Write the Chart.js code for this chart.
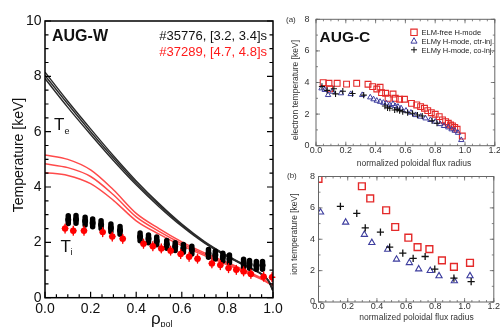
<!DOCTYPE html>
<html>
<head>
<meta charset="utf-8">
<script src="https://cdn.jsdelivr.net/npm/chart.js@4.4.1/dist/chart.umd.min.js"></script>
<style>
  html, body { margin: 0; padding: 0; background: #fff; }
  #wrap { position: relative; width: 500px; height: 327px; overflow: hidden; }
  #wrap canvas { position: absolute; left: 0; top: 0; }
</style>
</head>
<body>
<div id="wrap">
  <canvas id="augw" width="500" height="327"></canvas>
  <canvas id="augcA" width="500" height="327"></canvas>
  <canvas id="augcB" width="500" height="327"></canvas>
</div>
<script>
// ---- AUG-W: model profiles (three time slices each) ----
const rhoTe = [0, 0.1, 0.2, 0.3, 0.4, 0.5, 0.6, 0.7, 0.8, 0.9, 0.95, 0.98, 1.0];
const teHigh = [8.15, 7.1, 6.1, 5.13, 4.22, 3.4, 2.66, 2.03, 1.52, 1.08, 0.86, 0.63, 0.27];
const teMid  = [8.03, 7.0, 6.0, 5.05, 4.15, 3.35, 2.62, 2.0, 1.5, 1.07, 0.85, 0.62, 0.25];
const teLow  = [7.92, 6.88, 5.9, 4.96, 4.08, 3.29, 2.58, 1.97, 1.48, 1.05, 0.84, 0.6, 0.23];

const rhoTiFit = [0, 0.1, 0.2, 0.3, 0.4, 0.5, 0.6, 0.7, 0.8, 0.9, 0.95, 1.0];
const tiFitHigh = [5.16, 5.0, 4.62, 3.9, 3.05, 2.5, 2.02, 1.62, 1.27, 0.9, 0.7, 0.45];
const tiFitMid  = [4.84, 4.7, 4.38, 3.72, 2.92, 2.4, 1.95, 1.57, 1.23, 0.87, 0.68, 0.44];
const tiFitLow  = [4.52, 4.42, 4.12, 3.52, 2.78, 2.3, 1.88, 1.52, 1.19, 0.84, 0.66, 0.43];

// ---- AUG-W: measured Ti ----
const rhoTi35776 = [0.102, 0.136, 0.176, 0.209, 0.246, 0.289, 0.329,
  0.417, 0.454, 0.49, 0.534, 0.571, 0.607, 0.644,
  0.717, 0.747, 0.78, 0.809, 0.871, 0.897, 0.927, 0.954];
const ti35776 = [2.82, 2.83, 2.77, 2.7, 2.64, 2.52, 2.43,
  2.2, 2.13, 2.05, 1.93, 1.85, 1.78, 1.72,
  1.6, 1.54, 1.47, 1.4, 1.25, 1.2, 1.17, 1.17];
const rhoTi37289 = [0.088, 0.124, 0.171, 0.253, 0.295, 0.341,
  0.432, 0.473, 0.51, 0.551, 0.595, 0.632, 0.669,
  0.732, 0.769, 0.805, 0.839, 0.871, 0.903, 0.959, 0.996];
const ti37289 = [2.5, 2.42, 2.42, 2.37, 2.21, 2.13,
  1.95, 1.86, 1.78, 1.7, 1.58, 1.48, 1.41,
  1.24, 1.18, 1.07, 1.01, 0.95, 0.86, 0.76, 0.74];

// ---- AUG-C (a): electron temperature ----
const rhoTeFree = [0.048, 0.087, 0.092, 0.142, 0.205, 0.273, 0.349, 0.38, 0.408, 0.43, 0.44, 0.467,
  0.484, 0.517, 0.532, 0.561, 0.594, 0.641, 0.676, 0.702, 0.728, 0.75, 0.774, 0.8, 0.827,
  0.849, 0.87, 0.888, 0.903, 0.916, 0.931, 0.947, 0.982];
const teFree = [3.99, 3.95, 3.6, 3.95, 3.9, 3.95, 3.89, 3.74, 3.59, 3.7, 3.36, 3.32,
  3.0, 3.27, 3.0, 2.94, 2.94, 2.68, 2.58, 2.47, 2.37, 2.22, 2.09, 1.99, 1.84,
  1.63, 1.52, 1.42, 1.31, 1.25, 1.16, 1.04, 0.61];
const rhoTeCtr = [0.037, 0.059, 0.081, 0.109, 0.168, 0.233, 0.31, 0.364, 0.386, 0.408, 0.43, 0.452,
  0.473, 0.495, 0.517, 0.532, 0.55, 0.571, 0.604, 0.637, 0.669, 0.702, 0.735, 0.768,
  0.8, 0.833, 0.859, 0.888, 0.91, 0.931, 0.953, 0.975];
const teCtr = [3.63, 3.53, 3.21, 3.42, 3.32, 3.27, 3.21, 3.06, 2.94, 2.85, 2.78, 2.72,
  2.68, 2.58, 2.64, 2.51, 2.47, 2.37, 2.22, 2.09, 1.94, 1.84, 1.73, 1.63,
  1.52, 1.37, 1.25, 1.16, 1.04, 0.95, 0.82, 0.36];
const rhoTeCo = [0.04, 0.075, 0.12, 0.131, 0.18, 0.245, 0.32, 0.463, 0.48, 0.495, 0.528, 0.545,
  0.561, 0.582, 0.615, 0.648, 0.681, 0.713, 0.779, 0.812];
const teCo = [3.75, 3.5, 3.6, 3.28, 3.45, 3.3, 3.2, 2.51, 2.4, 2.37, 2.26, 2.3,
  2.22, 2.15, 2.09, 2.05, 1.94, 1.88, 1.58, 1.42];

// ---- AUG-C (b): ion temperature ----
const rhoTiFree = [0, 0.297, 0.354, 0.463, 0.525, 0.615, 0.678, 0.759, 0.845, 0.927, 1.037];
const tiFree = [7.85, 7.38, 6.6, 5.85, 4.78, 4.1, 3.5, 3.37, 2.65, 2.24, 2.5];
const rhoTiCtr = [0.014, 0.186, 0.314, 0.365, 0.474, 0.534, 0.622, 0.686, 0.765, 0.825, 0.93, 1.037];
const tiCtr = [5.72, 5.08, 4.3, 3.78, 3.35, 2.72, 2.5, 2.1, 2.0, 1.66, 1.34, 1.66];
const rhoTiCo = [0.15, 0.262, 0.32, 0.424, 0.487, 0.577, 0.648, 0.73, 0.796, 0.927, 1.045];
const tiCo = [6.1, 5.65, 4.72, 4.45, 3.5, 3.12, 2.78, 2.9, 2.1, 1.52, 1.3];

// ---- tick labels ----
const wTicksX = [0, 0.2, 0.4, 0.6, 0.8, 1.0];
const wTicksY = [0, 2, 4, 6, 8, 10];
const cTicksX = [0, 0.2, 0.4, 0.6, 0.8, 1.0, 1.2];
const cTicksY = [0, 2, 4, 6, 8];

const FONT = '"Liberation Sans", Arial, Helvetica, sans-serif';
const pts = (xs, ys) => xs.map((x, i) => ({ x: x, y: ys[i] }));

// draws box, inward ticks, tick labels and free text
const framePlugin = {
  id: 'frame',
  afterDraw(chart, args, o) {
    const { ctx, chartArea: a } = chart;
    const xs = chart.scales.x, ys = chart.scales.y;
    ctx.save();
    ctx.strokeStyle = o.color;
    ctx.lineWidth = o.lineWidth;
    ctx.strokeRect(a.left, a.top, a.right - a.left, a.bottom - a.top);

    ctx.lineWidth = o.tickWidth;
    ctx.beginPath();
    const tick = (axis, v, len) => {
      if (axis === 'x') {
        const px = xs.getPixelForValue(v);
        ctx.moveTo(px, a.bottom); ctx.lineTo(px, a.bottom - len);
        if (o.topTicks) { ctx.moveTo(px, a.top); ctx.lineTo(px, a.top + len); }
      } else {
        const py = ys.getPixelForValue(v);
        ctx.moveTo(a.left, py); ctx.lineTo(a.left + len, py);
        if (o.rightTicks) { ctx.moveTo(a.right, py); ctx.lineTo(a.right - len, py); }
      }
    };
    for (let v = xs.min; v <= xs.max + 1e-9; v += o.xMinor) tick('x', v, o.minorLen);
    for (let v = ys.min; v <= ys.max + 1e-9; v += o.yMinor) tick('y', v, o.minorLen);
    o.xTicks.forEach(v => tick('x', v, o.majorLen));
    o.yTicks.forEach(v => tick('y', v, o.majorLen));
    ctx.stroke();

    ctx.fillStyle = o.labelColor;
    ctx.font = o.tickFont;
    ctx.textAlign = 'center';
    ctx.textBaseline = 'middle';
    o.xTicks.forEach(v => ctx.fillText(v.toFixed(1), xs.getPixelForValue(v), o.xLabelY));
    ctx.textAlign = 'right';
    o.yTicks.forEach(v => ctx.fillText(String(v), o.yLabelX, ys.getPixelForValue(v)));

    ctx.textBaseline = 'alphabetic';
    (o.texts || []).forEach(t => {
      ctx.save();
      ctx.font = t.font;
      ctx.fillStyle = t.color || '#111';
      ctx.textAlign = t.align || 'left';
      ctx.translate(t.x, t.y);
      if (t.rotate) ctx.rotate(t.rotate);
      ctx.fillText(t.text, 0, 0);
      ctx.restore();
    });

    (o.legend || []).forEach(l => {
      drawMarker(ctx, l.style, l.x, l.y, l.r, l.color, l.lw);
      ctx.font = l.font;
      ctx.fillStyle = '#222';
      ctx.textAlign = 'left';
      ctx.fillText(l.text, l.x + 7.5, l.y + 2.7);
    });
    ctx.restore();
  }
};

function drawMarker(ctx, style, x, y, r, color, lw) {
  ctx.save();
  ctx.strokeStyle = color;
  ctx.lineWidth = lw;
  ctx.beginPath();
  if (style === 'rect') {
    ctx.rect(x - r, y - r, 2 * r, 2 * r);
  } else if (style === 'triangle') {
    ctx.moveTo(x, y - r);
    ctx.lineTo(x + r * 0.95, y + r * 0.7);
    ctx.lineTo(x - r * 0.95, y + r * 0.7);
    ctx.closePath();
  } else {
    ctx.moveTo(x - r, y); ctx.lineTo(x + r, y);
    ctx.moveTo(x, y - r); ctx.lineTo(x, y + r);
  }
  ctx.stroke();
  ctx.restore();
}

// vertical error bars drawn just before each point dataset
const errPlugin = {
  id: 'errbars',
  beforeDatasetDraw(chart, args) {
    const ds = chart.data.datasets[args.index];
    if (!ds.errBar) return;
    const { ctx } = chart;
    const xs = chart.scales.x, ys = chart.scales.y;
    ctx.save();
    ctx.strokeStyle = ds.errBar.color;
    ctx.lineWidth = ds.errBar.width;
    ctx.lineCap = 'round';
    ctx.beginPath();
    ds.data.forEach(p => {
      const px = xs.getPixelForValue(p.x);
      ctx.moveTo(px, ys.getPixelForValue(p.y - ds.errBar.size));
      ctx.lineTo(px, ys.getPixelForValue(p.y + ds.errBar.size));
      if (ds.errBar.hsize) {
        const py = ys.getPixelForValue(p.y);
        ctx.moveTo(xs.getPixelForValue(p.x - ds.errBar.hsize), py);
        ctx.lineTo(xs.getPixelForValue(p.x + ds.errBar.hsize), py);
      }
    });
    ctx.stroke();
    ctx.restore();
  }
};

function baseOptions(padding, xmax, ymax, frame) {
  return {
    responsive: false,
    animation: false,
    devicePixelRatio: 1,
    layout: { padding: padding },
    scales: {
      x: { type: 'linear', display: false, min: 0, max: xmax },
      y: { type: 'linear', display: false, min: 0, max: ymax }
    },
    plugins: { legend: { display: false }, tooltip: { enabled: false }, frame: frame },
    elements: { line: { fill: false } }
  };
}

function curve(xs, ys, color, width) {
  return {
    type: 'line', data: pts(xs, ys), borderColor: color, borderWidth: width,
    pointRadius: 0, cubicInterpolationMode: 'monotone', order: 2
  };
}

function marks(xs, ys, style, r, color, lw) {
  return {
    data: pts(xs, ys), showLine: false, pointStyle: style, pointRadius: r,
    pointBorderColor: color, pointBackgroundColor: 'rgba(255,255,255,0)', pointBorderWidth: lw, order: 1
  };
}

// ---------- AUG-W ----------
new Chart(document.getElementById('augw'), {
  type: 'scatter',
  data: {
    datasets: [
      {
        data: pts(rhoTi37289, ti37289), showLine: false, pointRadius: 3.2, pointBorderWidth: 0,
        pointBackgroundColor: '#ff0000', order: 0,
        errBar: { size: 0.16, width: 1.4, color: '#ff0000', hsize: 0.012 }
      },
      {
        data: pts(rhoTi35776, ti35776), showLine: false, pointRadius: 3, pointBorderWidth: 0,
        pointBackgroundColor: '#000', order: 1,
        errBar: { size: 0.14, width: 5.5, color: '#000' }
      },
      curve(rhoTe, teHigh, '#2a2a2a', 1.4),
      curve(rhoTe, teMid, '#2a2a2a', 1.4),
      curve(rhoTe, teLow, '#2a2a2a', 1.4),
      curve(rhoTiFit, tiFitHigh, '#ff4a4a', 1.5),
      curve(rhoTiFit, tiFitMid, '#ff4a4a', 1.5),
      curve(rhoTiFit, tiFitLow, '#ff4a4a', 1.5)
    ]
  },
  options: baseOptions({ left: 45, top: 21, right: 227, bottom: 29.3 }, 1, 10, {
    color: '#000', lineWidth: 1.5, tickWidth: 1.2,
    xTicks: wTicksX, yTicks: wTicksY, xMinor: 0.05, yMinor: 0.5,
    majorLen: 6, minorLen: 3.5, topTicks: false, rightTicks: true,
    labelColor: '#111', tickFont: '14px ' + FONT, xLabelY: 309.5, yLabelX: 41.5,
    texts: [
      { text: 'AUG-W', x: 52, y: 41, font: 'bold 16px ' + FONT },
      { text: '#35776, [3.2, 3.4]s', x: 267, y: 40, font: '13px ' + FONT, align: 'right' },
      { text: '#37289, [4.7, 4.8]s', x: 267, y: 56, font: '13px ' + FONT, align: 'right', color: '#ff1a1a' },
      { text: 'T', x: 54, y: 130, font: '17px ' + FONT },
      { text: 'e', x: 64.5, y: 133.5, font: '9px ' + FONT },
      { text: 'T', x: 60.5, y: 252, font: '17px ' + FONT },
      { text: 'i', x: 70.5, y: 255, font: '9px ' + FONT },
      { text: 'Temperature [keV]', x: 22.5, y: 155, font: '14px ' + FONT, align: 'center', rotate: -Math.PI / 2 },
      { text: 'ρ', x: 151, y: 323.5, font: '17px ' + FONT },
      { text: 'pol', x: 160.5, y: 327, font: '9px ' + FONT }
    ]
  }),
  plugins: [framePlugin, errPlugin]
});

// ---------- AUG-C (a) ----------
new Chart(document.getElementById('augcA'), {
  type: 'scatter',
  data: {
    datasets: [
      marks(rhoTeCo, teCo, 'cross', 3.1, '#111', 1.1),
      marks(rhoTeCtr, teCtr, 'triangle', 3.1, '#3d3d9e', 1),
      marks(rhoTeFree, teFree, 'rect', 4.1, '#e42a2a', 1.1)
    ]
  },
  options: baseOptions({ left: 316, top: 19.3, right: 0.7, bottom: 181.3 }, 1.2, 8, {
    color: '#666', lineWidth: 1, tickWidth: 0.8,
    xTicks: cTicksX, yTicks: cTicksY, xMinor: 0.05, yMinor: 1,
    majorLen: 4, minorLen: 2, topTicks: true, rightTicks: true,
    labelColor: '#333', tickFont: '9px ' + FONT, xLabelY: 150.8, yLabelX: 309.5,
    texts: [
      { text: '(a)', x: 286, y: 22, font: '8px ' + FONT, color: '#333' },
      { text: 'AUG-C', x: 319.5, y: 41.5, font: 'bold 15.5px ' + FONT },
      { text: 'electron temperature [keV]', x: 297.5, y: 90, font: '8.5px ' + FONT, align: 'center', color: '#333', rotate: -Math.PI / 2 },
      { text: 'normalized poloidal flux radius', x: 414, y: 165.5, font: '8.5px ' + FONT, align: 'center', color: '#333' }
    ],
    legend: [
      { style: 'rect', x: 414, y: 32.3, r: 3.2, color: '#e42a2a', lw: 1.1, text: 'ELM-free H-mode', font: '7.5px ' + FONT },
      { style: 'triangle', x: 414, y: 40.9, r: 3.2, color: '#3d3d9e', lw: 1, text: 'ELMy H-mode, ctr-inj.', font: '7.5px ' + FONT },
      { style: 'cross', x: 414, y: 49.8, r: 3, color: '#111', lw: 1, text: 'ELMy H-mode, co-inj.', font: '7.5px ' + FONT }
    ]
  }),
  plugins: [framePlugin]
});

// ---------- AUG-C (b) ----------
new Chart(document.getElementById('augcB'), {
  type: 'scatter',
  data: {
    datasets: [
      marks(rhoTiCo, tiCo, 'cross', 3.6, '#111', 1.3),
      marks(rhoTiCtr, tiCtr, 'triangle', 3.6, '#3d3d9e', 1.1),
      marks(rhoTiFree, tiFree, 'rect', 4.8, '#e42a2a', 1.4)
    ]
  },
  options: baseOptions({ left: 318.5, top: 176.5, right: 0, bottom: 25 }, 1.2, 8, {
    color: '#666', lineWidth: 1, tickWidth: 0.8,
    xTicks: cTicksX, yTicks: cTicksY, xMinor: 0.05, yMinor: 1,
    majorLen: 4, minorLen: 2, topTicks: true, rightTicks: true,
    labelColor: '#333', tickFont: '9px ' + FONT, xLabelY: 307, yLabelX: 315,
    texts: [
      { text: '(b)', x: 287, y: 178, font: '8px ' + FONT, color: '#333' },
      { text: 'ion temperature [keV]', x: 296.5, y: 234, font: '8.5px ' + FONT, align: 'center', color: '#333', rotate: -Math.PI / 2 },
      { text: 'normalized poloidal flux radius', x: 416.5, y: 320, font: '8.5px ' + FONT, align: 'center', color: '#333' }
    ]
  }),
  plugins: [framePlugin]
});
</script>
</body>
</html>
